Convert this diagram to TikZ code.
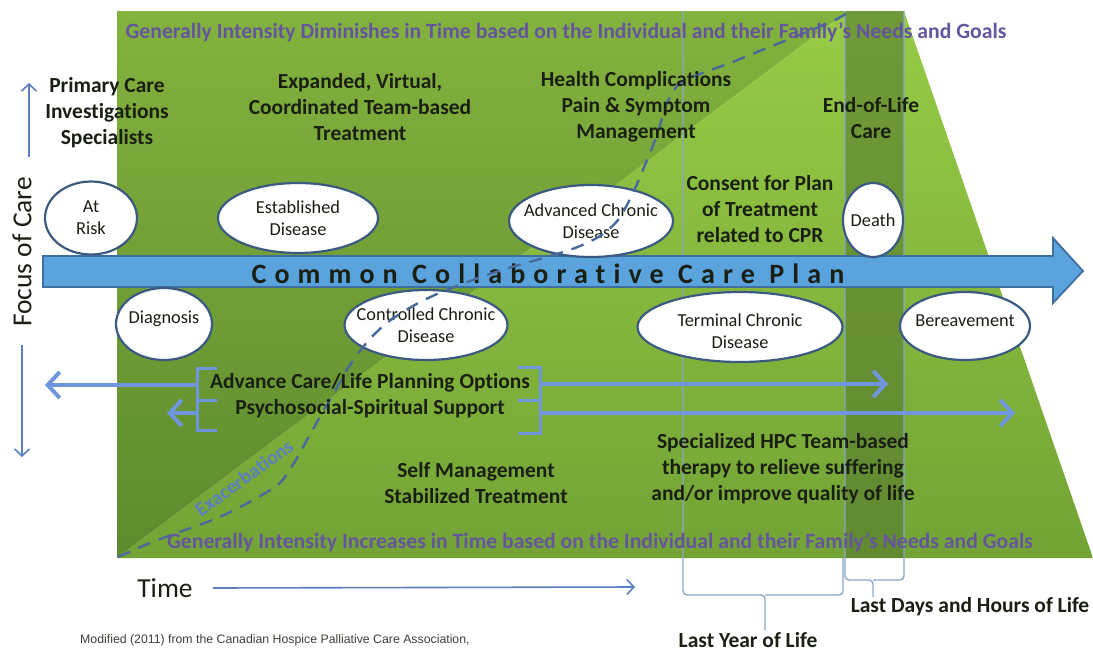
\documentclass[tikz,border=0pt]{standalone}
\usepackage{xcolor}
\usepackage{fontspec}
\setmainfont{Carlito}[Ligatures=NoCommon]
\newfontfamily\HpCaptionFont{Liberation Sans}
\newfontfamily\HpPlanFont[LetterSpace=29,Ligatures=NoCommon]{Carlito}
\usepackage{tikz}
\usetikzlibrary{arrows.meta,shapes.geometric}
\definecolor{HpGreenTop}{HTML}{84B23E}
\definecolor{HpGreenLow}{HTML}{5D8A2E}
\definecolor{HpLimeTop}{HTML}{98CB46}
\definecolor{HpLimeLow}{HTML}{73A335}
\definecolor{HpOlive}{HTML}{56792E}
\definecolor{HpSky}{HTML}{5AA3DC}
\definecolor{HpSteel}{HTML}{3F6F9F}
\definecolor{HpNavy}{HTML}{3B5A80}
\definecolor{HpCorn}{HTML}{6F96DC}
\definecolor{HpAxis}{HTML}{5B7FBF}
\definecolor{HpDash}{HTML}{4A6A9C}
\definecolor{HpPurple}{HTML}{65559E}
\definecolor{HpInk}{HTML}{1A1F14}
\definecolor{HpRule}{HTML}{8AA6C8}
\colorlet{HpOval}{white}

\begin{document}
\begin{tikzpicture}[x=1pt, y=-1pt,
  careText/.style={font=\fontsize{21.5}{26}\selectfont\bfseries, text=HpInk,
    align=center, inner sep=0pt},
  diseaseOval/.style={ellipse, draw=HpNavy, line width=2.2pt, fill=HpOval,
    inner sep=0pt},
  ovalLabel/.style={font=\fontsize{18.3}{22}\selectfont, text=HpInk,
    align=center, inner sep=0pt},
  goalNote/.style={font=\fontsize{21.7}{24}\selectfont\bfseries,
    text=HpPurple, inner sep=0pt},
  axisLabel/.style={font=\fontsize{27.5}{30}\selectfont, text=HpInk,
    inner sep=0pt},
  optionArrow/.style={HpCorn, line width=4pt,
    -{Straight Barb[length=12pt,width=26pt]}},
  axisArrow/.style={HpAxis, line width=1.6pt,
    -{Straight Barb[length=7pt,width=15pt]}},
  bracketRule/.style={HpCorn, line width=3pt},
  lifeRule/.style={HpRule, line width=1.4pt, rounded corners=4pt}]
  \useasboundingbox (0,0) rectangle (1093,651);

  % green background, darker above the diagonal
  \shade[top color=HpGreenTop, bottom color=HpGreenLow]
    (117,558) -- (117,11) -- (848,11) -- cycle;
  \shade[top color=HpLimeTop, bottom color=HpLimeLow]
    (117,558) -- (848,11) -- (904,11) -- (1093,558) -- cycle;
  \fill[HpOlive, opacity=0.6] (845,11) rectangle (904,558);

  % last year / last days brackets
  \draw[lifeRule] (683,11) -- (683,595) -- (765,595) -- (765,630);
  \draw[lifeRule] (765,595) -- (843,595) -- (843,558);
  \draw[lifeRule] (845,11) -- (845,580) -- (873,580) -- (873,597);
  \draw[lifeRule] (873,580) -- (904,580) -- (904,11);

  % care plan arrow
  \filldraw[fill=HpSky, draw=HpSteel, line width=1.8pt]
    (43,256) -- (1053,256) -- (1053,238) -- (1083,271) -- (1053,303)
    -- (1053,287) -- (43,287) -- cycle;
  \node[font=\HpPlanFont\fontsize{28}{30}\selectfont\bfseries, text=HpInk,
        inner sep=0pt] (plan) at (548,274) {Common Collaborative Care Plan};

  % disease stages
  \node[diseaseOval, minimum width=92pt, minimum height=73pt,
        label={[ovalLabel]center:At\\Risk}] (risk) at (91,218) {};
  \node[diseaseOval, minimum width=160pt, minimum height=70pt,
        label={[ovalLabel]center:Established\\Disease}] (established) at (298,218) {};
  \node[diseaseOval, minimum width=164pt, minimum height=72pt,
        label={[ovalLabel]center:Advanced Chronic\\Disease}] (advanced) at (591,221) {};
  \node[diseaseOval, minimum width=60pt, minimum height=74pt,
        label={[ovalLabel]center:Death}] (death) at (873,220) {};
  \node[diseaseOval, minimum width=96pt, minimum height=72pt,
        label={[ovalLabel, yshift=5pt]center:Diagnosis}] (diagnosis) at (164,324) {};
  \node[diseaseOval, minimum width=163pt, minimum height=70pt,
        label={[ovalLabel]center:Controlled Chronic\\Disease}] (controlled) at (426,325) {};
  \node[diseaseOval, minimum width=205pt, minimum height=70pt,
        label={[ovalLabel, yshift=-4pt]center:Terminal Chronic\\Disease}] (terminal) at (740,327) {};
  \node[diseaseOval, minimum width=130pt, minimum height=68pt,
        label={[ovalLabel, yshift=5pt]center:Bereavement}] (bereavement) at (965,326) {};

  % exacerbations
  \draw[HpDash, line width=2.4pt, dash pattern=on 13pt off 9pt]
    plot[smooth, tension=0.5] coordinates {(118,557) (150,543) (185,530)
    (215,519) (240,507) (262,495) (280,483) (294,463) (307,440) (321,415)
    (335,391) (350,365) (368,341) (388,322) (413,306) (437,294) (470,281)
    (505,269) (540,259) (575,248) (600,236) (618,220) (632,195) (645,165)
    (657,135) (667,103) (680,83) (700,74) (730,63) (762,50) (797,36)
    (835,20) (850,11)};
  \node[font=\fontsize{20}{24}\selectfont\bfseries, text=HpAxis, rotate=36,
        inner sep=0pt] (exacerb) at (244,478) {Exacerbations};

  % planning options and support
  \draw[bracketRule] (217,368) -- (197,368) -- (197,430) -- (217,430);
  \draw[bracketRule] (197,400) -- (217,400);
  \draw[bracketRule] (518,367) -- (540,367) -- (540,433) -- (518,433);
  \draw[bracketRule] (540,400) -- (518,400);
  \coordinate (leftTop) at (197,385);
  \coordinate (leftLow) at (197,413);
  \coordinate (rightTop) at (540,384);
  \coordinate (rightLow) at (540,413);
  \coordinate (planEnd) at (45,385);
  \coordinate (supportEnd) at (167,413);
  \coordinate (deathEnd) at (888,384);
  \coordinate (griefEnd) at (1015,413);
  \draw[optionArrow] (leftTop) -- (planEnd);
  \draw[optionArrow] (leftLow) -- (supportEnd);
  \draw[optionArrow] (rightTop) -- (deathEnd);
  \draw[optionArrow] (rightLow) -- (griefEnd);

  % texts
  \node[goalNote] (topNote) at (566,32)
    {Generally Intensity Diminishes in Time based on the Individual and their Family's Needs and Goals};
  \node[goalNote] (lowNote) at (600,542)
    {Generally Intensity Increases in Time based on the Individual and their Family's Needs and Goals};
  \node[careText] (primary) at (107,113) {Primary Care\\Investigations\\Specialists};
  \node[careText] (expanded) at (360,107) {Expanded, Virtual,\\Coordinated Team-based\\Treatment};
  \node[careText] (health) at (636,107) {Health Complications\\Pain \& Symptom\\Management};
  \node[careText] (eol) at (871,118) {End-of-Life\\Care};
  \node[careText] (consent) at (760,209) {Consent for Plan\\of Treatment\\related to CPR};
  \node[careText] (options) at (370,396) {Advance Care/Life Planning Options\\Psychosocial-Spiritual Support};
  \node[careText] (selfcare) at (476,483) {Self Management\\Stabilized Treatment};
  \node[careText] (hpc) at (783,469) {Specialized HPC Team-based\\therapy to relieve suffering\\and/or improve quality of life};
  \node[careText] (lastyear) at (748,640) {Last Year of Life};
  \node[careText] (lastdays) at (970,607) {Last Days and Hours of Life};

  % axes
  \node[axisLabel, rotate=90] (focus) at (22,252) {Focus of Care};
  \coordinate (upFrom) at (29,157);
  \coordinate (upTo) at (29,83);
  \coordinate (downFrom) at (22,345);
  \coordinate (downTo) at (22,457);
  \draw[axisArrow] (upFrom) -- (upTo);
  \draw[axisArrow] (downFrom) -- (downTo);
  \node[axisLabel] (time) at (165,588) {Time};
  \coordinate (timeEnd) at (635,587);
  \draw[axisArrow] ([xshift=20pt]time.east) -- (timeEnd);
  \node[font=\HpCaptionFont\fontsize{12.3}{14}\selectfont, text=HpInk!85,
        anchor=west, inner sep=0pt] (source) at (80,640)
    {Modified (2011) from the Canadian Hospice Palliative Care Association,};
\end{tikzpicture}
\end{document}
